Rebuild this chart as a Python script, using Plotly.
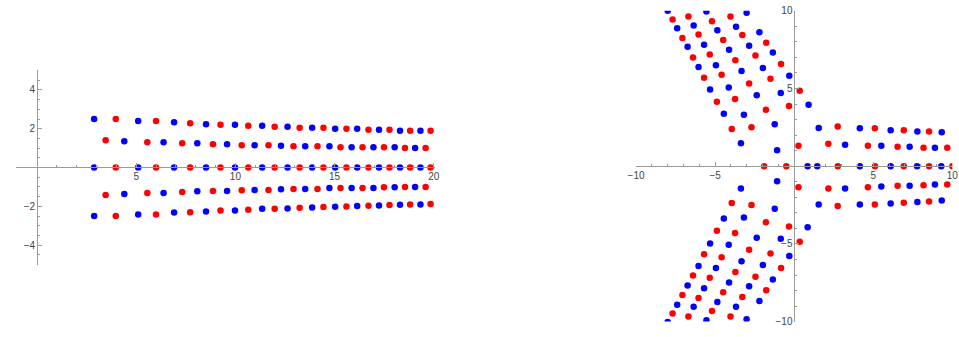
import plotly.graph_objects as go

BLUE = "#0000ff"
RED = "#ff0000"
AXC = "#9a9a9a"
TXT = "#444444"

# ---------------- Left panel data ----------------
L_X_A = [2.88, 3.97, 5.10, 6.00, 6.91, 7.72, 8.52, 9.25, 9.98, 10.65, 11.35, 11.98, 12.63,
         13.24, 13.87, 14.44, 15.03, 15.60, 16.14, 16.71, 17.24, 17.77, 18.30, 18.81, 19.33, 19.84]
L_C_A = "BRBRBRBRBRBRBRBRBRBRBRBRBR"
L_Y_TOP = [2.50, 2.50, 2.40, 2.40, 2.33, 2.28, 2.23, 2.20, 2.20, 2.15, 2.15, 2.10, 2.10,
           2.05, 2.05, 2.05, 2.00, 2.00, 2.00, 1.95, 1.95, 1.95, 1.90, 1.90, 1.90, 1.90]
L_Y_MID = [0.0, 0.0, 0.0, 0.0, 0.0, 0.0, 0.0, 0.0, 0.0, 0.0, 0.0, 0.0, 0.0,
           0.0, 0.0, 0.0, 0.0, 0.0, 0.0, 0.0, 0.0, 0.0, 0.0, 0.0, 0.0, 0.0]
L_Y_BOT = [-2.50, -2.50, -2.42, -2.42, -2.32, -2.31, -2.26, -2.22, -2.21, -2.17, -2.13, -2.12, -2.11,
           -2.07, -2.06, -2.03, -2.02, -2.01, -1.98, -1.97, -1.96, -1.93, -1.92, -1.91, -1.91, -1.88]

L_X_B = [3.46, 4.40, 5.56, 6.38, 7.32, 8.08, 8.87, 9.58, 10.32, 10.97, 11.67, 12.30, 12.93,
         13.52, 14.14, 14.74, 15.30, 15.86, 16.41, 16.96, 17.49, 18.03, 18.55, 19.06, 19.59]
L_C_B = "RBRBRBRBRBRBRBRBRBRBRBRBR"
L_Y_UP = [1.40, 1.35, 1.30, 1.30, 1.25, 1.25, 1.20, 1.20, 1.15, 1.15, 1.15, 1.12, 1.10,
          1.10, 1.10, 1.10, 1.05, 1.05, 1.05, 1.05, 1.05, 1.05, 1.00, 1.00, 1.00]
L_Y_DN = [-1.41, -1.36, -1.31, -1.31, -1.26, -1.22, -1.21, -1.21, -1.17, -1.16, -1.16, -1.12, -1.10,
          -1.10, -1.10, -1.06, -1.05, -1.05, -1.05, -1.05, -1.01, -1.01, -1.00, -1.00, -1.00]

# ---------------- Right panel data ----------------
R_D1_X = [-8.00, -7.69, -7.40, -7.07, -6.74, -6.40, -6.05, -5.70, -5.32, -4.89, -4.45, -3.95, -3.37]
R_D1_Y = [10.00, 9.44, 8.88, 8.25, 7.69, 7.00, 6.38, 5.69, 4.94, 4.15, 3.38, 2.40, 1.47]
R_D1_C = "BRBRBRBRBRBRB"
R_D2_X = [-6.69, -6.36, -6.05, -5.70, -5.34, -4.95, -4.59, -4.14, -3.74, -3.18, -2.70]
R_D2_Y = [9.63, 9.06, 8.48, 7.81, 7.19, 6.50, 5.88, 5.07, 4.32, 3.32, 2.51]
R_D2_C = "RBRBRBRBRBR"
R_D3_X = [-5.55, -5.20, -4.86, -4.49, -4.12, -3.72, -3.33, -2.85, -2.37, -1.79, -1.23, -1.08]
R_D3_Y = [9.96, 9.33, 8.75, 8.13, 7.50, 6.82, 6.13, 5.32, 4.57, 3.63, 2.70, 1.03]
R_D3_C = "BRBRBRBRBRBB"
R_D4_X = [-4.03, -3.68, -3.28, -2.85, -2.45, -1.98, -1.50, -0.85, -0.33]
R_D4_Y = [9.63, 8.98, 8.44, 7.75, 7.13, 6.32, 5.63, 4.71, 3.88]
R_D4_C = "RBRBRBRBR"
R_D5_X = [-3.01, -2.20, -1.77, -1.35, -0.83, -0.31, 0.35, 0.91]
R_D5_Y = [9.87, 8.62, 7.94, 7.32, 6.57, 5.82, 4.86, 3.96]
R_D5_C = "BBRBRBRB"

R_E1_X = [-3.37, -3.95, -4.45, -4.89, -5.32, -5.70, -6.05, -6.40, -6.74, -7.07, -7.40, -7.69, -8.00]
R_E1_Y = [-1.43, -2.36, -3.36, -4.15, -4.98, -5.67, -6.42, -7.04, -7.67, -8.29, -8.92, -9.48, -10.02]
R_E1_C = "BRBRBRBRBRBRB"
R_E2_X = [-2.70, -3.18, -3.74, -4.14, -4.59, -4.95, -5.34, -5.70, -6.05, -6.36, -6.69]
R_E2_Y = [-2.49, -3.30, -4.30, -5.05, -5.86, -6.55, -7.17, -7.86, -8.48, -9.04, -9.67]
R_E2_C = "RBRBRBRBRBR"
R_E3_X = [-1.08, -1.23, -1.79, -2.37, -2.85, -3.33, -3.72, -4.12, -4.49, -4.86, -5.20, -5.55]
R_E3_Y = [-0.97, -2.74, -3.61, -4.61, -5.38, -6.11, -6.80, -7.48, -8.11, -8.73, -9.31, -9.92]
R_E3_C = "BBRBRBRBRBRB"
R_E4_X = [-0.33, -0.85, -1.50, -1.98, -2.45, -2.85, -3.28, -3.68, -4.03]
R_E4_Y = [-3.88, -4.67, -5.61, -6.36, -7.11, -7.73, -8.42, -9.04, -9.67]
R_E4_C = "RBRBRBRBR"
R_E5_X = [0.85, 0.35, -0.31, -0.83, -1.35, -1.77, -2.20, -3.01]
R_E5_Y = [-3.92, -4.86, -5.77, -6.55, -7.29, -7.98, -8.67, -9.85]
R_E5_C = "BRBRBRBB"

R_AX_X = [-1.90, -0.50, 0.85, 1.46, 2.76, 4.15, 5.11, 6.10, 6.93, 7.77, 8.53, 9.30, 10.00]
R_AX_Y = [0.0, 0.0, 0.0, 0.0, 0.0, 0.0, 0.0, 0.0, 0.0, 0.0, 0.0, 0.0, 0.0]
R_AX_C = "RRBBRBRBRBRBR"

R_P2_X = [1.55, 2.75, 4.15, 5.10, 6.10, 6.93, 7.79, 8.53, 9.33]
R_P2_Y = [2.46, 2.56, 2.44, 2.44, 2.32, 2.32, 2.24, 2.24, 2.19]
R_P2_C = "BRBRBRBRB"
R_P1_X = [0.27, 2.16, 3.22, 4.66, 5.51, 6.54, 7.30, 8.18, 8.90, 9.68]
R_P1_Y = [1.31, 1.44, 1.38, 1.31, 1.31, 1.25, 1.25, 1.19, 1.19, 1.19]
R_P1_C = "RRBRBRBRBR"
R_M1_X = [0.27, 2.16, 3.22, 4.66, 5.51, 6.54, 7.30, 8.18, 8.90, 9.68]
R_M1_Y = [-1.35, -1.44, -1.44, -1.35, -1.31, -1.25, -1.25, -1.22, -1.17, -1.17]
R_M1_C = "RRBRBRBRBR"
R_M2_X = [1.55, 2.75, 4.15, 5.10, 6.10, 6.93, 7.79, 8.53, 9.33]
R_M2_Y = [-2.46, -2.56, -2.46, -2.46, -2.40, -2.35, -2.31, -2.27, -2.21]
R_M2_C = "BRBRBRBRB"

LEFT_GROUPS = [(L_X_A, L_Y_TOP, L_C_A), (L_X_B, L_Y_UP, L_C_B), (L_X_A, L_Y_MID, L_C_A),
               (L_X_B, L_Y_DN, L_C_B), (L_X_A, L_Y_BOT, L_C_A)]
RIGHT_GROUPS = [(R_D1_X, R_D1_Y, R_D1_C), (R_D2_X, R_D2_Y, R_D2_C), (R_D3_X, R_D3_Y, R_D3_C),
                (R_D4_X, R_D4_Y, R_D4_C), (R_D5_X, R_D5_Y, R_D5_C),
                (R_E1_X, R_E1_Y, R_E1_C), (R_E2_X, R_E2_Y, R_E2_C), (R_E3_X, R_E3_Y, R_E3_C),
                (R_E4_X, R_E4_Y, R_E4_C), (R_E5_X, R_E5_Y, R_E5_C),
                (R_AX_X, R_AX_Y, R_AX_C), (R_P2_X, R_P2_Y, R_P2_C), (R_P1_X, R_P1_Y, R_P1_C),
                (R_M1_X, R_M1_Y, R_M1_C), (R_M2_X, R_M2_Y, R_M2_C)]

L_XTICKS = [5, 10, 15, 20]
L_YTICKS = [-4, -2, 2, 4]
R_TICKS = [-10, -5, 5, 10]

W, H = 959, 337
fig = go.Figure()

def col(cs):
    return [BLUE if c == "B" else RED for c in cs]

for xs, ys, cs in LEFT_GROUPS:
    fig.add_trace(go.Scatter(x=xs, y=ys, mode="markers", xaxis="x", yaxis="y",
                             marker=dict(color=col(cs), size=6.5, line=dict(width=0)),
                             hoverinfo="skip"))
for xs, ys, cs in RIGHT_GROUPS:
    fig.add_trace(go.Scatter(x=xs, y=ys, mode="markers", xaxis="x2", yaxis="y2",
                             marker=dict(color=col(cs), size=6.5, line=dict(width=0)),
                             hoverinfo="skip"))

font = dict(family="Liberation Sans, Arial, sans-serif", size=10, color=TXT)

def axis(domain, rng, pos, ticks, minor_dt):
    return dict(domain=domain, range=rng, anchor="free", position=pos,
                showline=True, linecolor=AXC, linewidth=1,
                showgrid=False, zeroline=False,
                tickmode="array", tickvals=ticks, ticks="inside", ticklen=4,
                tickcolor=AXC, tickwidth=1, tickfont=font,
                minor=dict(tickmode="linear", tick0=0, dtick=minor_dt, ticks="inside",
                           ticklen=2, tickcolor=AXC, tickwidth=1, showgrid=False))

fig.update_layout(
    width=W, height=H, margin=dict(l=0, r=0, t=0, b=0),
    paper_bgcolor="white", plot_bgcolor="white", showlegend=False,
    xaxis=axis([8.3 / W, 433 / W], [-1.05, 20.07], (H - 167.3) / H, L_XTICKS, 1),
    yaxis=axis([(H - 268.3) / H, (H - 66.7) / H], [-5.04, 5.04], 29.5 / W, L_YTICKS, 0.5),
    xaxis2=axis([636.7 / W, 957.3 / W], [-10.0, 10.0], (H - 166) / H, R_TICKS, 1),
    yaxis2=axis([(H - 326.3) / H, (H - 6) / H], [-10.0, 10.0], 797.3 / W, R_TICKS, 1),
)

fig.write_html("out.html",
               config={"displayModeBar": False, "staticPlot": True},
               post_script="document.body.style.margin='0px';document.body.style.overflow='hidden';")
